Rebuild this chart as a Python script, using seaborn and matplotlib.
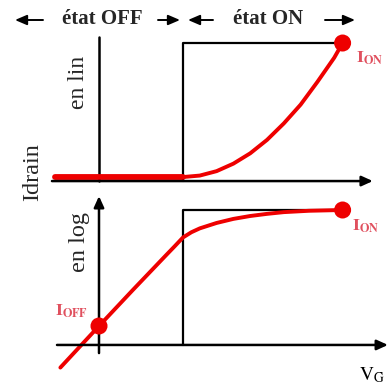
import matplotlib
matplotlib.use("Agg")
import matplotlib.pyplot as plt
from matplotlib.patches import FancyArrowPatch
import seaborn as sns
import pandas as pd

# Schematic transfer characteristic Idrain(VG)
VT = 1.0       # threshold voltage (start of "état ON")
VDD = 2.9      # supply voltage, where I_ON is reached
I_ON_LIN = 1.0 # normalised on-current (linear panel)
LOG_ION = 0.0  # log10 of normalised on-current
LOG_IOFF = -6.0

# linear panel
vg_off = [-0.52, 0.0, 0.5, 1.0]
id_off = [0.0, 0.0, 0.0, 0.0]
vg_lin = [1.0, 1.2, 1.4, 1.6, 1.8, 2.0, 2.2, 2.4, 2.6, 2.8, 2.9]
id_lin = [0.0, 0.011, 0.044, 0.10, 0.177, 0.277, 0.40, 0.54, 0.71, 0.89, 1.0]

# log panel (decades)
vg_log = [-0.46, 0.0, 0.4, 0.8, 0.9, 1.0, 1.1, 1.2, 1.4, 1.6, 1.8, 2.0, 2.2, 2.5, 2.9]
id_log = [-8.15, -6.0, -4.15, -2.33, -1.88, -1.42, -1.15, -0.95, -0.67, -0.46,
          -0.31, -0.2, -0.11, -0.04, 0.0]

sns.set_theme(style="white")
plt.rcParams["font.family"] = ["Liberation Serif", "DejaVu Serif"]
plt.rcParams["mathtext.fontset"] = "stix"

RED = "#ee0000"
LABEL_RED = "#e0505e"
XLIM = (-1.1786, 3.4643)

fig = plt.figure(figsize=(3.9, 3.9), dpi=100)
ax_lin = fig.add_axes([0, 0.5, 1, 0.5])
ax_log = fig.add_axes([0, 0, 1, 0.5])
for ax in (ax_lin, ax_log):
    ax.set_xlim(*XLIM)
    ax.axis("off")
ax_lin.set_ylim(-0.134, 1.321)
ax_log.set_ylim(-9.31, 0.776)

arrow = dict(arrowstyle="-|>,head_length=0.55,head_width=0.25", color="black",
             lw=1.8, shrinkA=0, shrinkB=0)

# --- top panel: linear scale
ax_lin.plot([0, 0], [-0.03, 1.045], color="black", lw=1.8)
ax_lin.annotate("", xy=(3.26, -0.03), xytext=(-0.56, -0.03), arrowprops=arrow)
ax_lin.plot([VT, VT, VDD], [-0.03, I_ON_LIN, I_ON_LIN], color="black", lw=1.6)
sns.lineplot(x=vg_off, y=id_off, ax=ax_lin, color=RED, lw=4.2, estimator=None)
sns.lineplot(x=vg_lin, y=id_lin, ax=ax_lin, color=RED, lw=2.8, estimator=None)
sns.scatterplot(x=[VDD], y=[I_ON_LIN], ax=ax_lin, color=RED, s=150,
                edgecolor="none", zorder=5, clip_on=False)

# --- bottom panel: log scale
ax_log.annotate("", xy=(0, 0.72), xytext=(0, -7.4), arrowprops=arrow)
ax_log.annotate("", xy=(3.44, -6.98), xytext=(-0.5, -6.98), arrowprops=arrow)
ax_log.plot([VT, VT, VDD], [-6.98, LOG_ION, LOG_ION], color="black", lw=1.6)
sns.lineplot(x=vg_log, y=id_log, ax=ax_log, color=RED, lw=2.8, estimator=None)
df_dots = pd.DataFrame({"vg": [0.0, VDD], "logid": [LOG_IOFF, LOG_ION]})
sns.scatterplot(data=df_dots, x="vg", y="logid", ax=ax_log, color=RED, s=150,
                edgecolor="none", zorder=5, clip_on=False)

# --- texts (figure pixel positions converted to fractions)
def fx(px):
    return px / 390

def fy(py):
    return 1 - py / 390

fig.text(fx(102), fy(19), "état OFF", ha="center", va="center",
         fontsize=15, fontweight="bold")
fig.text(fx(268), fy(19), "état ON", ha="center", va="center",
         fontsize=15, fontweight="bold")
head = dict(arrowstyle="-|>,head_length=0.7,head_width=0.3", color="black",
            lw=1.4, shrinkA=0, shrinkB=0, mutation_scale=10)
for tip, tail in [(15, 43), (180, 158), (188, 213), (355, 325)]:
    fig.add_artist(FancyArrowPatch((fx(tail), fy(20)), (fx(tip), fy(20)),
                                   transform=fig.transFigure, **head))

fig.text(fx(33), fy(172), "Idrain", rotation=90, ha="center", va="center", fontsize=17.5)
fig.text(fx(78), fy(82), "en lin", rotation=90, ha="center", va="center", fontsize=17)
fig.text(fx(79), fy(242), "en log", rotation=90, ha="center", va="center", fontsize=17.5)

fig.text(fx(356), fy(58), r"$\mathbf{I}_{\mathbf{ON}}$", ha="left", va="center",
         fontsize=12.5, color=LABEL_RED)
fig.text(fx(352), fy(226), r"$\mathbf{I}_{\mathbf{ON}}$", ha="left", va="center",
         fontsize=12.5, color=LABEL_RED)
fig.text(fx(55), fy(311), r"$\mathbf{I}_{\mathbf{OFF}}$", ha="left", va="center",
         fontsize=12.5, color=LABEL_RED)
fig.text(fx(359), fy(375), r"$\mathrm{V}_{\mathrm{G}}$", ha="left", va="center",
         fontsize=14, color="black")

fig.savefig("out.png", dpi=100, facecolor="white")
